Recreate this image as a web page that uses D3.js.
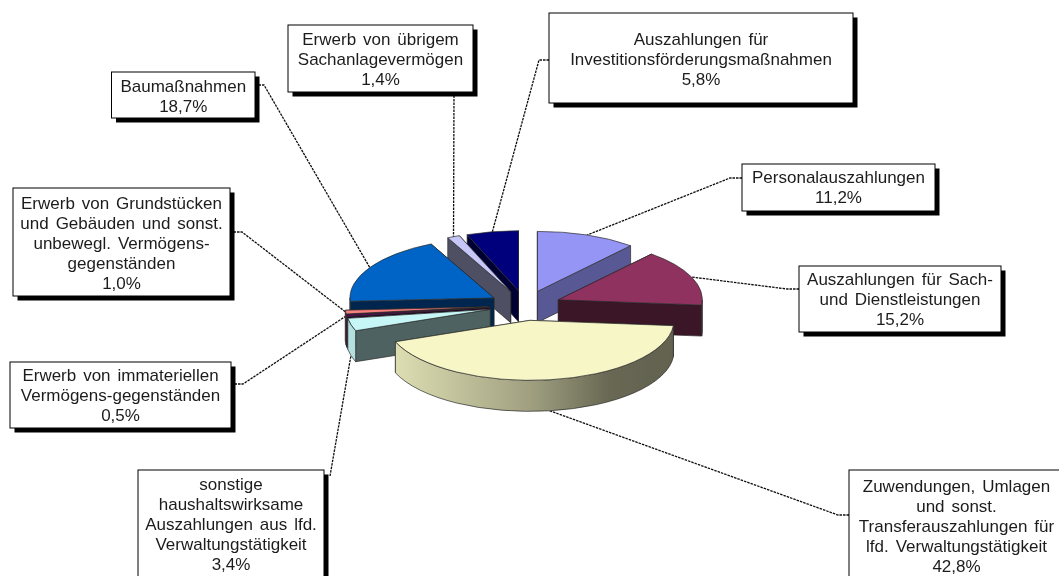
<!DOCTYPE html>
<html lang="de">
<head>
<meta charset="utf-8">
<script src="https://cdn.jsdelivr.net/npm/d3@7/dist/d3.min.js"></script>
<style>
html,body{margin:0;padding:0;background:#fff;overflow:hidden}
svg{display:block}
text{font-family:"Liberation Sans",Arial,sans-serif;font-size:17px;fill:#1c1c1c;text-anchor:middle;word-spacing:2.2px}
</style>
</head>
<body>
<svg id="chart" width="1059" height="576"></svg>
<script>
// Data
const categories = [
  "Personalauszahlungen",
  "Auszahlungen für Sach- und Dienstleistungen",
  "Zuwendungen, Umlagen und sonst. Transferauszahlungen für lfd. Verwaltungstätigkeit",
  "sonstige haushaltswirksame Auszahlungen aus lfd. Verwaltungstätigkeit",
  "Erwerb von immateriellen Vermögens-gegenständen",
  "Erwerb von Grundstücken und Gebäuden und sonst. unbewegl. Vermögens-gegenständen",
  "Baumaßnahmen",
  "Erwerb von übrigem Sachanlagevermögen",
  "Auszahlungen für Investitionsförderungsmaßnahmen"
];
const values = [11.2, 15.2, 42.8, 3.4, 0.5, 1.0, 18.7, 1.4, 5.8];
const colors = ["#9595F6","#90305F","#F6F6C6","#C6F6F6","#600060","#F88080","#0064C6","#C6C6F8","#00007C"];
const labelLines = [
  ["Personalauszahlungen"],
  ["Auszahlungen für Sach-","und Dienstleistungen"],
  ["Zuwendungen, Umlagen","und sonst.","Transferauszahlungen für","lfd. Verwaltungstätigkeit"],
  ["sonstige","haushaltswirksame","Auszahlungen aus lfd.","Verwaltungstätigkeit"],
  ["Erwerb von immateriellen","Vermögens-gegenständen"],
  ["Erwerb von Grundstücken","und Gebäuden und sonst.","unbewegl. Vermögens-","gegenständen"],
  ["Baumaßnahmen"],
  ["Erwerb von übrigem","Sachanlagevermögen"],
  ["Auszahlungen für","Investitionsförderungsmaßnahmen"]
];

// Layout
const W = 1059, H = 576;
const cx = 525, cy = 305.5, rx = 144, ry = 60, depth = 31, explode = 0.25, shadow = 4.5;
const boxes = [ // x0,y0,x1,y1, first baseline
  [742,164,935,211,183],
  [799,266,1001,332,285],
  [849,470,1064,590,492],
  [138,470,324,590,490],
  [10,362,231,428,381],
  [13,188,230,296,209],
  [111.5,72,255,118,92],
  [288,25,473,92,45],
  [549,13,853,103,45]
];
const elbows = [ // leader from box edge, via elbow, to the slice
  [[742,178],[730,178]],
  [[799,289],[787,289]],
  [[849,515],[838,515]],
  [[330,476],[330,476]],
  [[231,384],[243,384]],
  [[230,232],[242,232]],
  [[255,85],[264,85]],
  [[454,92],[454,92]],
  [[549,60],[539,60]]
];
const leaderOnWall = [false,false,true,true,false,false,false,false,false];
const drawOrder = [8,7,0,6,1,5,4,3,2];

const svg = d3.select("#chart");
const defs = svg.append("defs");
defs.append("filter").attr("id", "soft")
  .attr("x", 0).attr("y", 0).attr("width", W).attr("height", H)
  .attr("filterUnits", "userSpaceOnUse")
  .append("feGaussianBlur").attr("stdDeviation", 0.4);
const root = svg.append("g").attr("filter", "url(#soft)");
const pct = d => d.toFixed(1).replace(".", ",") + "%";

const pie = d3.pie().sort(null).startAngle(0).endAngle(2*Math.PI).value(d => d);
const slices = pie(values).map((s, i) => {
  const mid = (s.startAngle + s.endAngle) / 2;
  const ax = cx + explode * rx * Math.sin(mid);
  const ay = cy - explode * ry * Math.cos(mid);
  const pt = t => [ax + rx * Math.sin(t), ay - ry * Math.cos(t)];
  return {i, a: s.startAngle, b: s.endAngle, mid, ax, ay, pt, color: colors[i]};
});

const shade = (c, f) => {
  const r = d3.rgb(c);
  return d3.rgb(r.r * f, r.g * f, r.b * f).formatHex();
};

// leader lines
const gLead = root.append("g");
slices.forEach(s => {
  const p = s.pt(s.mid);
  const end = [p[0], p[1] + (leaderOnWall[s.i] ? depth : 0)];
  const pts = [...elbows[s.i], end];
  gLead.append("path")
    .attr("d", d3.line()(pts))
    .attr("fill", "none")
    .attr("stroke", "#111")
    .attr("stroke-width", 1.3)
    .attr("stroke-dasharray", "2.5 1");
});

// pie, painted back to front
const gPie = root.append("g");
const strokeStyle = sel => sel.attr("stroke", "#2b2b2b").attr("stroke-width", 0.7).attr("stroke-linejoin", "round");
const H90 = Math.PI / 2, H270 = 3 * Math.PI / 2;
drawOrder.forEach(idx => {
  const s = slices[idx];
  const g = gPie.append("g");
  // radial cut faces, farther rim first
  [s.a, s.b].map(t => ({t, p: s.pt(t)})).sort((u, v) => u.p[1] - v.p[1]).forEach(({t, p}) => {
    const f = (t % (2 * Math.PI)) < H90 && t > 0 ? 0.6 : 0.4;
    g.append("path")
      .attr("d", d3.line()([[s.ax, s.ay], p, [p[0], p[1] + depth], [s.ax, s.ay + depth]]) + "Z")
      .attr("fill", shade(s.color, f))
      .call(strokeStyle);
  });
  // outer wall
  const a0 = Math.max(s.a, H90), a1 = Math.min(s.b, H270);
  if (a1 > a0) {
    const id = "wall" + idx;
    const grad = defs.append("linearGradient").attr("id", id)
      .attr("gradientUnits", "userSpaceOnUse")
      .attr("x1", s.ax - rx).attr("x2", s.ax + rx).attr("y1", 0).attr("y2", 0);
    [[0, .92], [.5, .65], [.78, .42], [1, .4]].forEach(([o, f]) =>
      grad.append("stop").attr("offset", o).attr("stop-color", shade(s.color, f)));
    const p0 = s.pt(a0), p1 = s.pt(a1);
    const large = a1 - a0 > Math.PI ? 1 : 0;
    g.append("path")
      .attr("d", `M${p0}A${rx},${ry} 0 ${large} 1 ${p1}L${p1[0]},${p1[1] + depth}A${rx},${ry} 0 ${large} 0 ${p0[0]},${p0[1] + depth}Z`)
      .attr("fill", `url(#${id})`)
      .call(strokeStyle);
  }
  // top
  const p0 = s.pt(s.a), p1 = s.pt(s.b);
  const large = s.b - s.a > Math.PI ? 1 : 0;
  g.append("path")
    .attr("d", `M${s.ax},${s.ay}L${p0}A${rx},${ry} 0 ${large} 1 ${p1}Z`)
    .attr("fill", s.color)
    .call(strokeStyle);
});

// label boxes
const gLab = root.append("g");
slices.forEach(s => {
  const [x0, y0, x1, y1, base] = boxes[s.i];
  const g = gLab.append("g");
  g.append("rect").attr("x", x0 + shadow).attr("y", y0 + shadow).attr("width", x1 - x0).attr("height", y1 - y0).attr("fill", "#000");
  g.append("rect").attr("x", x0).attr("y", y0).attr("width", x1 - x0).attr("height", y1 - y0)
    .attr("fill", "#fff").attr("stroke", "#000").attr("stroke-width", 1);
  const lines = [...labelLines[s.i], pct(values[s.i])];
  const t = g.append("text");
  lines.forEach((l, k) => t.append("tspan")
    .attr("x", (x0 + x1) / 2).attr("y", base + k * 20).text(l));
});
</script>
</body>
</html>
